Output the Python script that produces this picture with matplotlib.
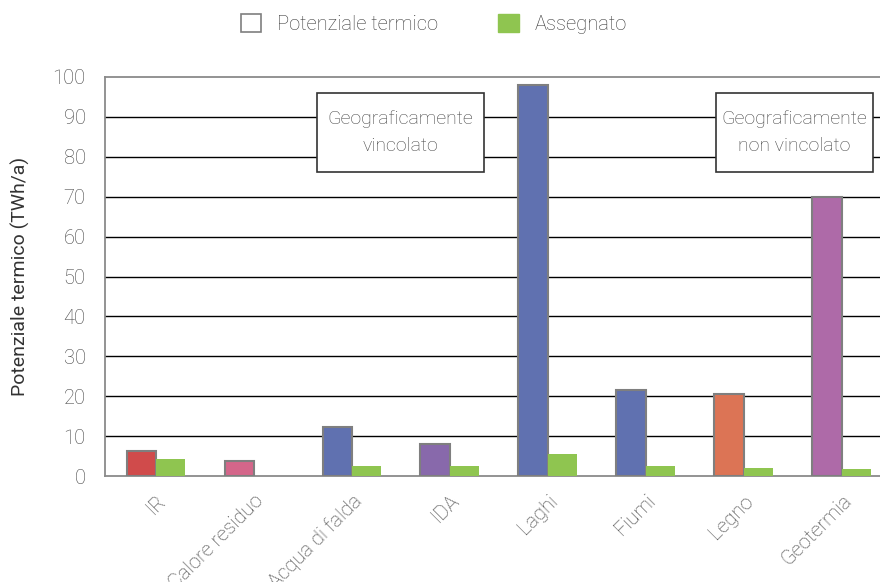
import matplotlib
matplotlib.use("Agg")
import matplotlib.pyplot as plt
from matplotlib.patches import Rectangle, Patch
import numpy as np

categories = ["IR", "Calore residuo", "Acqua di falda", "IDA", "Laghi", "Fiumi", "Legno", "Geotermia"]
potenziale = [6.3, 3.8, 12.3, 8.0, 98.0, 21.5, 20.5, 70.0]
assegnato = [4.3, 0.0, 2.5, 2.5, 5.5, 2.5, 2.0, 1.7]
bar_colors = ["#d04b4b", "#d4668a", "#6071b0", "#8869ab", "#6071b0", "#6071b0", "#dc7455", "#ae6aa8"]
green = "#8fc550"
yticks = list(range(0, 101, 10))

plt.rcParams["font.family"] = ["Roboto", "DejaVu Sans"]
plt.rcParams["font.weight"] = "light"
tc = "#444444"

fig = plt.figure(figsize=(8.8, 5.82), dpi=100)
ax = fig.add_axes([105 / 880, 1 - 476 / 582, 775 / 880, 399 / 582])

x = np.arange(len(categories))
w = 0.3
for v in yticks[1:-1]:
    ax.axhline(v, color="black", lw=1.0, zorder=1)
ax.bar(x - w / 2, potenziale, w, color=bar_colors, edgecolor="#7f7f7f", lw=1.5, zorder=3)
ax.bar(x + w / 2, assegnato, w, color=green, zorder=3)

ax.set_xlim(-0.52, 7.39)
ax.set_ylim(0, 100)
ax.set_yticks(yticks)
ax.set_xticks(x)
ax.set_xticklabels(categories, rotation=45, ha="right", va="top", rotation_mode="anchor")
ax.tick_params(axis="both", length=0, labelsize=14.5, labelcolor=tc)
ax.tick_params(axis="y", pad=14)
ax.tick_params(axis="x", pad=11)
for s in ["left", "bottom", "top"]:
    ax.spines[s].set_color("#8a8a8a")
    ax.spines[s].set_linewidth(1.3)
ax.spines["right"].set_visible(False)
ax.set_ylabel("Potenziale termico (TWh/a)", fontsize=14, color="#333333",
              labelpad=16, fontweight="normal")

# annotation boxes
for (x0, x1), txt in [((1.643, 3.347), "Geograficamente\nvincolato"),
                      ((5.714, 7.316), "Geograficamente\nnon vincolato")]:
    ax.add_patch(Rectangle((x0, 76.2), x1 - x0, 19.8, facecolor="white",
                           edgecolor="#333333", lw=1.2, zorder=4))
    ax.text((x0 + x1) / 2, 86.1, txt, ha="center", va="center", fontsize=14,
            color=tc, linespacing=1.65, zorder=5)

handles = [Patch(facecolor="white", edgecolor="#7f7f7f", lw=1.2),
           Patch(facecolor=green, edgecolor=green)]
fig.legend(handles, ["Potenziale termico", "Assegnato"], loc="center",
           bbox_to_anchor=(0.493, 0.959), ncol=2, frameon=False, fontsize=14.5,
           labelcolor="#3a3a3a", handlelength=1.0, handleheight=1.0, columnspacing=3.0,
           handletextpad=0.8)

fig.savefig("out.png", dpi=100)
